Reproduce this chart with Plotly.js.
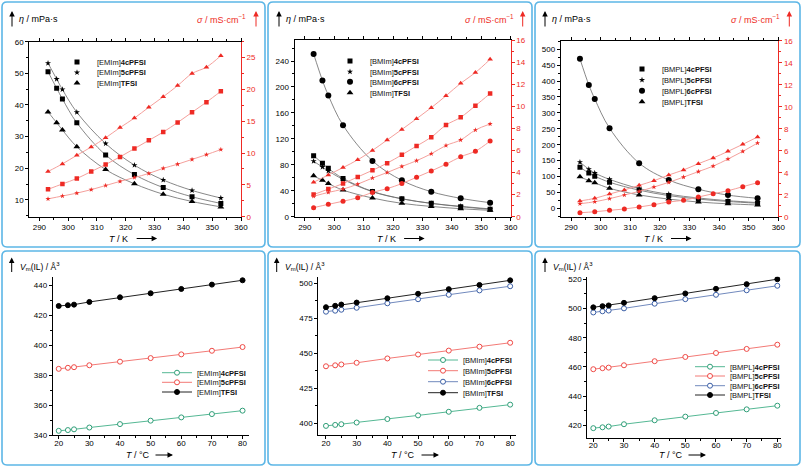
<!DOCTYPE html>
<html><head><meta charset="utf-8">
<script src="https://cdn.plot.ly/plotly-3.0.1.min.js"></script>
<style>html,body{margin:0;padding:0;background:#fff}#chart{width:802px;height:467px}</style>
</head><body><div id="chart"></div>
<script>
// ---------------- DATA ----------------
const T_visc = [293, 296, 298, 303, 313, 323, 333, 343, 353];           // K
const T_cond = [293, 298, 303, 308, 313, 318, 323, 328, 333, 338, 343, 348, 353]; // K
const T_vm   = [20, 23, 25, 30, 40, 50, 60, 70, 80];                       // °C

// [EMIm] viscosity (mPa·s)
const emim_4c_eta   = [50.5, 45.3, 41.9, 34.4, 24.2, 18.0, 13.9, 11.0, 8.9];
const emim_5c_eta   = [53.2, 48.2, 44.9, 37.7, 27.8, 21.0, 16.3, 13.0, 10.6];
const emim_tfsi_eta = [37.8, 34.4, 32.1, 26.8, 19.6, 15.1, 11.8, 9.5, 7.8];
// [EMIm] conductivity (mS/cm)
const emim_4c_sig   = [4.3, 5.15, 6.0, 7.1, 8.2, 9.4, 10.7, 12.0, 13.3, 14.8, 16.4, 18.0, 19.7];
const emim_5c_sig   = [2.8, 3.25, 3.7, 4.25, 4.9, 5.55, 6.15, 6.8, 7.6, 8.25, 9.0, 9.75, 10.55];
const emim_tfsi_sig = [7.1, 8.3, 9.65, 10.95, 12.4, 14.0, 15.5, 17.2, 18.85, 20.6, 22.5, 23.5, 25.3];

// [BMIm] viscosity
const bmim_4c_eta   = [94, 82.5, 74.5, 59, 39, 27.7, 20.6, 15.4, 11.3];
const bmim_5c_eta   = [85.5, 76.5, 70.5, 57.5, 38.5, 27.5, 20.5, 16, 12];
const bmim_6c_eta   = [251, 210, 187, 141, 86, 56, 38.5, 28.3, 21.6];
const bmim_tfsi_eta = [63, 56, 51, 41, 28.8, 20.6, 15.8, 12.3, 9.8];
// [BMIm] conductivity
const bmim_4c_sig   = [2.0, 2.5, 3.0, 3.6, 4.2, 4.85, 5.6, 6.4, 7.2, 8.3, 9.0, 10.05, 11.15];
const bmim_5c_sig   = [1.85, 2.2, 2.5, 2.95, 3.5, 4.0, 4.55, 5.07, 5.7, 6.45, 6.95, 7.85, 8.4];
const bmim_6c_sig   = [0.82, 1.12, 1.4, 1.72, 2.2, 2.54, 3.0, 3.57, 4.14, 4.75, 5.43, 5.93, 6.85];
const bmim_tfsi_sig = [3.12, 3.78, 4.45, 5.15, 6.0, 6.95, 7.9, 8.87, 9.87, 10.95, 12.08, 13.05, 14.25];

// [BMPL] viscosity
const bmpl_4c_eta   = [129, 111, 101, 82, 57, 40, 29, 21.5, 16];
const bmpl_5c_eta   = [145, 123, 111, 91, 62, 44, 32.4, 24, 18];
const bmpl_6c_eta   = [470, 388, 344, 252, 142, 89, 60, 41.5, 31.5];
const bmpl_tfsi_eta = [99, 87, 80, 63, 42, 29, 19.8, 14.2, 10.4];
// [BMPL] conductivity
const bmpl_5c_sig   = [1.18, 1.36, 1.64, 1.97, 2.3, 2.7, 3.12, 3.6, 4.1, 4.6, 5.24, 5.94, 6.7];
const bmpl_6c_sig   = [0.36, 0.45, 0.58, 0.7, 0.88, 1.09, 1.34, 1.49, 1.79, 2.09, 2.36, 2.73, 3.09];
const bmpl_tfsi_sig = [1.43, 1.67, 2.06, 2.43, 2.85, 3.27, 3.79, 4.25, 4.82, 5.34, 5.94, 6.58, 7.25];

// Molecular volume Vm(IL) (Å^3)
const emim_4c_vm   = [342.8, 343.3, 343.8, 345.0, 347.3, 349.6, 351.8, 354.0, 356.3];
const emim_5c_vm   = [384.3, 385.0, 385.4, 386.7, 389.1, 391.5, 394.0, 396.4, 398.9];
const emim_tfsi_vm = [426.4, 426.9, 427.3, 429.1, 432.2, 434.9, 437.8, 440.7, 443.6];

const bmim_4c_vm   = [398.1, 398.8, 399.3, 400.5, 403.0, 405.6, 408.2, 411.0, 413.3];
const bmim_5c_vm   = [440.7, 441.4, 442.0, 443.2, 446.3, 449.1, 451.9, 454.7, 457.5];
const bmim_6c_vm   = [479.7, 480.4, 481.1, 482.5, 485.7, 488.6, 491.8, 494.9, 497.9];
const bmim_tfsi_vm = [482.9, 483.9, 484.8, 486.2, 489.3, 492.5, 495.8, 498.8, 502.1];

const bmpl_4c_vm   = [418.0, 418.6, 419.1, 420.7, 423.4, 425.9, 428.4, 430.9, 433.4];
const bmpl_5c_vm   = [458.4, 459.1, 459.5, 461.1, 463.9, 466.8, 469.5, 472.3, 475.2];
const bmpl_6c_vm   = [497.3, 498.1, 498.6, 500.1, 503.3, 506.4, 509.4, 512.5, 515.6];
const bmpl_tfsi_vm = [500.8, 501.6, 502.1, 503.9, 507.1, 510.3, 513.5, 516.7, 520.1];

// Legend labels
const emim_names = ['[EMIm]<b>4cPFSI</b>', '[EMIm]<b>5cPFSI</b>', '[EMIm]<b>TFSI</b>'];
const bmim_names = ['[BMIm]<b>4cPFSI</b>', '[BMIm]<b>5cPFSI</b>', '[BMIm]<b>6cPFSI</b>', '[BMIm]<b>TFSI</b>'];
const bmpl_names = ['[BMPL]<b>4cPFSI</b>', '[BMPL]<b>5cPFSI</b>', '[BMPL]<b>6cPFSI</b>', '[BMPL]<b>TFSI</b>'];

// ---------------- STYLE / LAYOUT ----------------
const W = 802, H = 467;
const px = v => v / W, py = v => 1 - v / H;
const FONT = '"Liberation Sans", Arial, sans-serif';
const RED = '#ee2a24', REDLINE = '#f5a09c', FIT = '#6a6a6a';
const SYM = {c4: ['square', 5, 4.5], c5: ['star', 4.6, 3.9], c6: ['circle', 6, 5], tf: ['triangle-up', 6, 5]};
const VCOL = {c4: ['#2f9e78', '#55b894'], c5: ['#ef4a46', '#f37a76'], c6: ['#3a5ea6', '#7189bd'], tf: ['#000', '#222']};

const data = [];
const layout = {
  width: W, height: H, margin: {l: 0, r: 0, t: 0, b: 0},
  paper_bgcolor: '#fff', plot_bgcolor: 'rgba(0,0,0,0)',
  font: {family: FONT, size: 8, color: '#000'},
  showlegend: true, hovermode: false,
  shapes: [], annotations: []
};

const legendPos = [
  {left: 57, rows: [62, 72.5, 83]},
  {left: 330, rows: [61, 71.7, 81.7, 92.7]},
  {left: 622, rows: [69, 80, 90.7, 101.7]},
  {left: 157, rows: [372.7, 382.3, 392]},
  {left: 423, rows: [360, 370.7, 381.7, 392.7]},
  {left: 690, rows: [366.7, 376, 385.7, 395]}
];
let legCount = 0;
function newLegend(left, row) {
  legCount++;
  const key = legCount === 1 ? 'legend' : 'legend' + legCount;
  layout[key] = {x: px(left), xanchor: 'left', y: py(row), yanchor: 'middle',
    bgcolor: 'rgba(0,0,0,0)', borderwidth: 0, itemwidth: 30,
    font: {family: FONT, size: 7.5, color: '#111'}};
  return key;
}

function baseAxis(extra) {
  return Object.assign({showgrid: false, zeroline: false, showline: true, linecolor: '#000', linewidth: 1,
    ticks: 'outside', ticklen: 3, tickwidth: 1, tickcolor: '#000',
    tickfont: {family: FONT, size: 8, color: '#000'}, fixedrange: true}, extra);
}

// top panels geometry
const topPanels = [
  {x: [29.3, 241], y: [41.7, 216.7], yl: [4.7, 60], dtl: 10, mnl: 5, yr: [0, 27.5], dtr: 5, mnr: 2.5},
  {x: [294.5, 510.7], y: [40, 216.7], yl: [0, 272.4], dtl: 40, mnl: 20, yr: [0, 16], dtr: 2, mnr: 1},
  {x: [560.7, 778.3], y: [40.7, 216.7], yl: [-26.4, 527], dtl: 50, mnl: 25, yr: [0, 16], dtr: 2, mnr: 1}
];
const botPanels = [
  {x: [52.7, 249.3], y: [276.7, 435], xr: [18.04, 82.2], yl: [340, 446], dtl: 20, mnl: 10},
  {x: [318.3, 515.7], y: [276.7, 435], xr: [17.5, 81.8], yl: [391.6, 504.7], dtl: 25, mnl: 12.5},
  {x: [587.3, 780.7], y: [276.7, 437.5], xr: [18.04, 81.1], yl: [411.6, 521.8], dtl: 20, mnl: 10}
];

const topSeries = [
  [
    {name: emim_names[0], eta: emim_4c_eta, sig: emim_4c_sig, s: 'c4'},
    {name: emim_names[1], eta: emim_5c_eta, sig: emim_5c_sig, s: 'c5'},
    {name: emim_names[2], eta: emim_tfsi_eta, sig: emim_tfsi_sig, s: 'tf'}
  ],
  [
    {name: bmim_names[0], eta: bmim_4c_eta, sig: bmim_4c_sig, s: 'c4'},
    {name: bmim_names[1], eta: bmim_5c_eta, sig: bmim_5c_sig, s: 'c5'},
    {name: bmim_names[2], eta: bmim_6c_eta, sig: bmim_6c_sig, s: 'c6'},
    {name: bmim_names[3], eta: bmim_tfsi_eta, sig: bmim_tfsi_sig, s: 'tf'}
  ],
  [
    {name: bmpl_names[0], eta: bmpl_4c_eta, sig: null, s: 'c4'},
    {name: bmpl_names[1], eta: bmpl_5c_eta, sig: bmpl_5c_sig, s: 'c5'},
    {name: bmpl_names[2], eta: bmpl_6c_eta, sig: bmpl_6c_sig, s: 'c6'},
    {name: bmpl_names[3], eta: bmpl_tfsi_eta, sig: bmpl_tfsi_sig, s: 'tf'}
  ]
];
const botSeries = [
  [
    {name: emim_names[0], vm: emim_4c_vm, s: 'c4'},
    {name: emim_names[1], vm: emim_5c_vm, s: 'c5'},
    {name: emim_names[2], vm: emim_tfsi_vm, s: 'tf'}
  ],
  [
    {name: bmim_names[0], vm: bmim_4c_vm, s: 'c4'},
    {name: bmim_names[1], vm: bmim_5c_vm, s: 'c5'},
    {name: bmim_names[2], vm: bmim_6c_vm, s: 'c6'},
    {name: bmim_names[3], vm: bmim_tfsi_vm, s: 'tf'}
  ],
  [
    {name: bmpl_names[0], vm: bmpl_4c_vm, s: 'c4'},
    {name: bmpl_names[1], vm: bmpl_5c_vm, s: 'c5'},
    {name: bmpl_names[2], vm: bmpl_6c_vm, s: 'c6'},
    {name: bmpl_names[3], vm: bmpl_tfsi_vm, s: 'tf'}
  ]
];

// --- top panels
topPanels.forEach((p, i) => {
  const n = i + 1;
  const xk = n === 1 ? 'xaxis' : 'xaxis' + n, yk = n === 1 ? 'yaxis' : 'yaxis' + n, rk = 'yaxis' + (n + 6);
  const xa = n === 1 ? 'x' : 'x' + n, ya = n === 1 ? 'y' : 'y' + n, ra = 'y' + (n + 6);
  layout[xk] = baseAxis({domain: [px(p.x[0]), px(p.x[1])], range: [286.5, 360], anchor: ya,
    tick0: 290, dtick: 10, mirror: 'ticks',
    minor: {dtick: 5, tick0: 290, ticks: 'outside', ticklen: 2, tickcolor: '#000'}});
  layout[yk] = baseAxis({domain: [py(p.y[1]), py(p.y[0])], range: p.yl, anchor: xa,
    tick0: 0, dtick: p.dtl, minor: {dtick: p.mnl, tick0: 0, ticks: 'outside', ticklen: 2, tickcolor: '#000'}});
  layout[rk] = baseAxis({overlaying: ya, side: 'right', anchor: xa, range: p.yr,
    tick0: 0, dtick: p.dtr, linecolor: RED, tickcolor: RED,
    tickfont: {family: FONT, size: 8, color: RED},
    minor: {dtick: p.mnr, tick0: 0, ticks: 'outside', ticklen: 2, tickcolor: RED}});

  const ser = topSeries[i];
  ser.forEach(s => {
    data.push({x: T_visc, y: s.eta, xaxis: xa, yaxis: ya, mode: 'lines',
      line: {shape: 'spline', smoothing: 1, color: FIT, width: 0.8}, showlegend: false, hoverinfo: 'skip'});
  });
  ser.forEach((s, j) => {
    const lk = newLegend(legendPos[i].left, legendPos[i].rows[j]);
    data.push({x: T_visc, y: s.eta, xaxis: xa, yaxis: ya, mode: 'markers', name: s.name, legend: lk,
      marker: {symbol: SYM[s.s][0], size: SYM[s.s][1], color: '#000'}, showlegend: true, hoverinfo: 'skip'});
  });
  ser.forEach(s => {
    if (!s.sig) return;
    data.push({x: T_cond, y: s.sig, xaxis: xa, yaxis: ra, mode: 'lines+markers',
      line: {shape: 'spline', smoothing: 1, color: REDLINE, width: 1},
      marker: {symbol: SYM[s.s][0], size: SYM[s.s][2], color: RED}, showlegend: false, hoverinfo: 'skip'});
  });
});

// --- bottom panels
botPanels.forEach((p, i) => {
  const n = i + 4;
  const xk = 'xaxis' + n, yk = 'yaxis' + n, xa = 'x' + n, ya = 'y' + n;
  layout[xk] = baseAxis({domain: [px(p.x[0]), px(p.x[1])], range: p.xr, anchor: ya,
    tick0: 20, dtick: 10, ticklabelstandoff: -3,
    minor: {dtick: 5, tick0: 20, ticks: 'outside', ticklen: 2, tickcolor: '#000'}});
  layout[yk] = baseAxis({domain: [py(p.y[1]), py(p.y[0])], range: p.yl, anchor: xa,
    tick0: 0, dtick: p.dtl, minor: {dtick: p.mnl, tick0: 0, ticks: 'outside', ticklen: 2, tickcolor: '#000'}});
  botSeries[i].forEach((s, j) => {
    const lk = newLegend(legendPos[i + 3].left, legendPos[i + 3].rows[j]);
    const filled = s.s === 'tf';
    data.push({x: T_vm, y: s.vm, xaxis: xa, yaxis: ya, mode: 'lines+markers', name: s.name, legend: lk,
      line: {color: VCOL[s.s][1], width: 1},
      marker: {symbol: 'circle', size: 5, color: filled ? '#000' : '#fff',
        line: {color: VCOL[s.s][0], width: 1}},
      showlegend: true, hoverinfo: 'skip'});
  });
});

// --- panel boxes (rounded)
function roundBox(x0, y0, x1, y1, r) {
  const P = (x, y) => px(x) + ',' + py(y);
  return 'M' + P(x0 + r, y0) + ' L' + P(x1 - r, y0) + ' Q' + P(x1, y0) + ' ' + P(x1, y0 + r) +
    ' L' + P(x1, y1 - r) + ' Q' + P(x1, y1) + ' ' + P(x1 - r, y1) +
    ' L' + P(x0 + r, y1) + ' Q' + P(x0, y1) + ' ' + P(x0, y1 - r) +
    ' L' + P(x0, y0 + r) + ' Q' + P(x0, y0) + ' ' + P(x0 + r, y0) + ' Z';
}
const boxes = [[2, 2, 265, 247], [268, 2, 532, 247], [535, 2, 800, 247],
               [2, 251, 265, 465], [268, 251, 532, 465], [535, 251, 800, 465]];
boxes.forEach(b => layout.shapes.push({type: 'path', xref: 'paper', yref: 'paper',
  path: roundBox(b[0], b[1], b[2], b[3], 5), line: {color: '#5cb6e6', width: 1.6}, layer: 'below'}));

// --- annotations: axis labels and arrows
function txt(x, y, text, anchor, color, size) {
  layout.annotations.push({x: px(x), y: py(y), xref: 'paper', yref: 'paper', text: text, showarrow: false,
    xanchor: anchor, yanchor: 'middle', font: {family: FONT, size: size || 9, color: color || '#000'}});
}
function arrow(xTip, yTip, ax, ay, color) {
  layout.annotations.push({x: px(xTip), y: py(yTip), xref: 'paper', yref: 'paper', text: '',
    showarrow: true, ax: ax, ay: ay, arrowhead: 2, arrowsize: 1.1, arrowwidth: 1, standoff: 0,
    arrowcolor: color || '#000'});
}
const topArrowX = [12, 279, 545], topRedText = [248, 515.7, 782.3], topRedArrow = [256, 522.7, 789.3];
topPanels.forEach((p, i) => {
  arrow(topArrowX[i], 11, 0, 17);
  txt(topArrowX[i] + 5, 19.5, '<i>η</i> / mPa·s', 'left');
  txt(topRedText[i], 19.5, '<i>σ</i> / mS·cm<sup>−1</sup>', 'right', RED);
  arrow(topRedArrow[i], 11, 0, 17, RED);
  const pc = (p.x[0] + p.x[1]) / 2;
  txt(pc - 16.5, 238.5, '<i>T</i> / K', 'center');
  arrow(pc + 22, 238.5, -22, 0);
});
const botArrowX = [11.7, 276.7, 545];
botPanels.forEach((p, i) => {
  arrow(botArrowX[i], 257.5, 0, 16);
  txt(botArrowX[i] + 6, 266.5, '<i>V</i><sub>m</sub>(IL) / Å<sup>3</sup>', 'left', '#000', 8.5);
  const pc = (p.x[0] + p.x[1]) / 2;
  txt(pc - 13.5, 455, '<i>T</i> / °C', 'center');
  arrow(pc + 22, 455, -19, 0);
});

Plotly.newPlot('chart', data, layout, {staticPlot: true, displayModeBar: false});
</script>
</body></html>
